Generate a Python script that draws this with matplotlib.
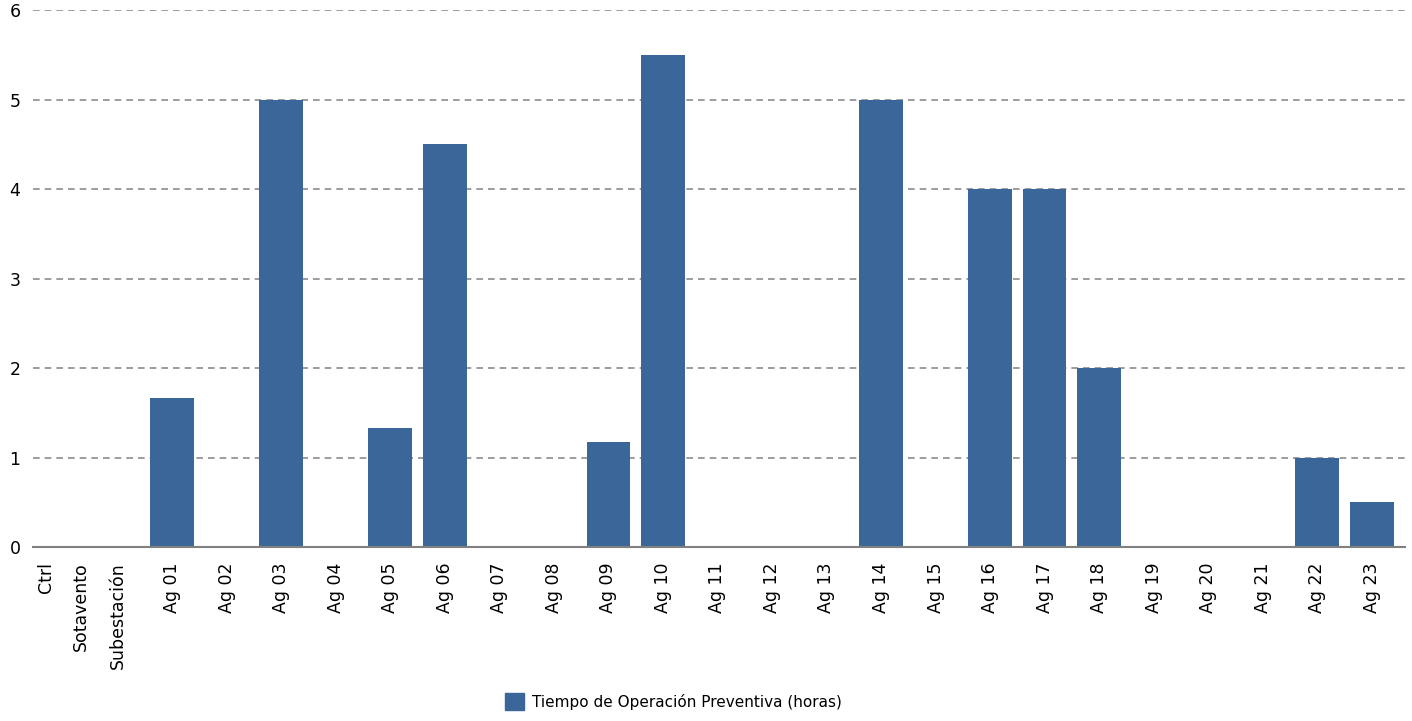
import matplotlib.pyplot as plt
from matplotlib.patches import Patch

# categorias y valores (horas)
categorias = ['Ctrl\nSotavento', 'Subestación'] + ['Ag %02d' % i for i in range(1, 24)]
horas = [0, 0,
         1.67, 0, 5, 0, 1.33, 4.5, 0, 0, 1.17, 5.5, 0, 0, 0, 5, 0, 4, 4, 2,
         0, 0, 0, 1, 0.5]
serie = 'Tiempo de Operación Preventiva (horas)'
color_barra = '#3A6699'

plt.rcParams['font.family'] = ['DejaVu Sans']

fig = plt.figure(figsize=(14.12, 7.21), dpi=100)
ax = fig.add_axes([0.0234, 0.2413, 0.9717, 0.7447])

x = range(len(categorias))
ax.bar(x, horas, width=0.8, color=color_barra, zorder=3)

ax.set_xlim(-0.55, 24.61)
ax.set_ylim(0, 6)
ax.set_yticks(range(0, 7))
ax.set_xticks(list(x))
ax.set_xticklabels(categorias, rotation=90, fontsize=12.5, multialignment='right',
                   linespacing=2.2)
ax.tick_params(axis='both', length=0)
ax.tick_params(axis='y', pad=9, labelsize=12.5)
ax.tick_params(axis='x', pad=11)

#rejilla
ax.yaxis.grid(True, color='#8c8c8c', linestyle=(0, (4, 3)), linewidth=1.2, zorder=0)
for s in ['top', 'right', 'left']:
    ax.spines[s].set_visible(False)
ax.spines['bottom'].set_color('#808080')
ax.spines['bottom'].set_linewidth(1.5)
ax.spines['bottom'].set_zorder(4)

fig.legend(handles=[Patch(color=color_barra, label=serie)], loc='center',
           bbox_to_anchor=(0.477, 0.027), frameon=False, fontsize=11,
           handlelength=1.25, handleheight=1.25, handletextpad=0.5)

fig.savefig('out.png', dpi=100)
